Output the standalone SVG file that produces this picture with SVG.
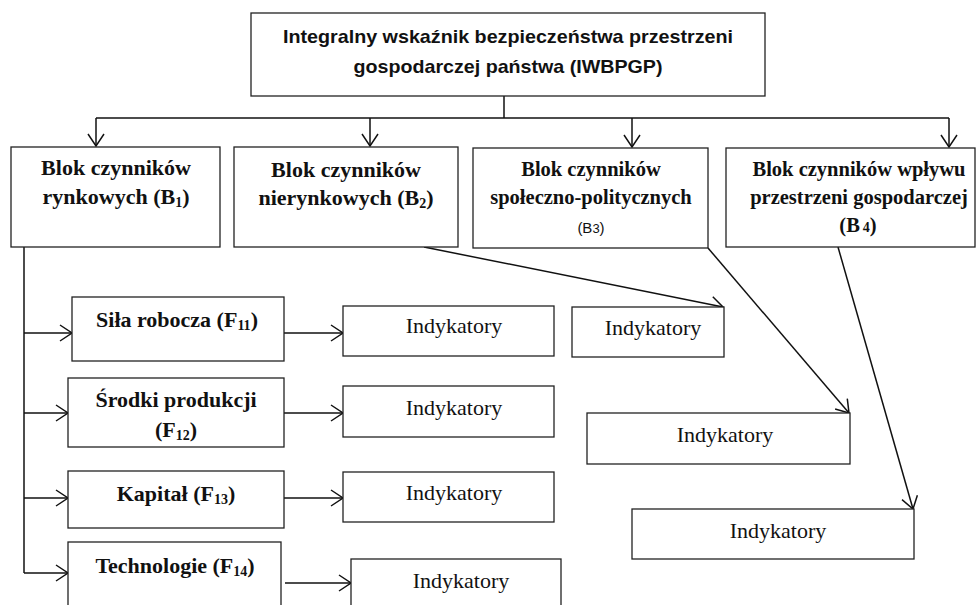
<svg xmlns="http://www.w3.org/2000/svg" width="976" height="605" viewBox="0 0 976 605">
<defs>
<style>
.box{fill:#fff;stroke:#222;stroke-width:1.3}
.ln{fill:none;stroke:#111;stroke-width:1.5}
.arr{fill:none;stroke:#111;stroke-width:1.5;marker-end:url(#ah)}
.tb{font-family:"Liberation Serif","Times New Roman","DejaVu Serif",serif;font-weight:bold;font-size:22px;fill:#111;text-anchor:middle}
.tb3{font-family:"Liberation Serif","Times New Roman","DejaVu Serif",serif;font-weight:bold;font-size:20.5px;fill:#111;text-anchor:middle}
.tr{font-family:"Liberation Serif","Times New Roman","DejaVu Serif",serif;font-weight:normal;font-size:22px;fill:#111;text-anchor:middle}
.ts{font-family:"Liberation Sans",Arial,sans-serif;font-weight:bold;font-size:19px;fill:#111;text-anchor:middle}
.sub{font-size:14px}
</style>
<marker id="ah" viewBox="0 0 14 18" refX="13" refY="9" markerWidth="14" markerHeight="18" markerUnits="userSpaceOnUse" orient="auto">
<path d="M1,1 L13,9 L1,17" fill="none" stroke="#111" stroke-width="1.5"/>
</marker>
</defs>
<rect width="976" height="605" fill="#fff"/>

<g id="connectors">
<line class="ln" x1="504" y1="96" x2="504" y2="118"/>
<line class="ln" x1="96" y1="118" x2="949" y2="118"/>
<line class="arr" x1="96" y1="118" x2="96" y2="146"/>
<line class="arr" x1="370" y1="118" x2="370" y2="146"/>
<line class="arr" x1="632" y1="118" x2="632" y2="147"/>
<line class="arr" x1="949" y1="118" x2="949" y2="147"/>
<line class="ln" x1="24" y1="247" x2="24" y2="573"/>
<line class="arr" x1="24" y1="333" x2="72" y2="333"/>
<line class="arr" x1="24" y1="413" x2="68" y2="413"/>
<line class="arr" x1="24" y1="498" x2="68" y2="498"/>
<line class="arr" x1="24" y1="573" x2="68" y2="573"/>
<line class="arr" x1="284" y1="333" x2="343" y2="333"/>
<line class="arr" x1="284" y1="413" x2="343" y2="413"/>
<line class="arr" x1="284" y1="498" x2="343" y2="498"/>
<line class="arr" x1="285" y1="583" x2="351" y2="583"/>
<line class="arr" x1="424" y1="247" x2="723" y2="307"/>
<line class="arr" x1="708" y1="248" x2="849" y2="413"/>
<line class="arr" x1="838" y1="247" x2="913" y2="509"/>
</g>

<g id="top">
<rect class="box" x="251" y="13" width="514" height="83"/>
<text class="ts" x="508" y="43" textLength="450" lengthAdjust="spacingAndGlyphs">Integralny wskaźnik bezpieczeństwa przestrzeni</text>
<text class="ts" x="508" y="73" textLength="309" lengthAdjust="spacingAndGlyphs">gospodarczej państwa (IWBPGP)</text>
</g>

<g id="b1">
<rect class="box" x="11" y="147" width="209" height="100"/>
<text class="tb" x="116" y="175">Blok czynników</text>
<text class="tb" x="116" y="204">rynkowych (B<tspan class="sub" dy="3">1</tspan><tspan dy="-3">)</tspan></text>
</g>

<g id="b2">
<rect class="box" x="234" y="147" width="224" height="100"/>
<text class="tb" x="346" y="177">Blok czynników</text>
<text class="tb" x="346" y="205">nierynkowych (B<tspan class="sub" dy="3">2</tspan><tspan dy="-3">)</tspan></text>
</g>

<g id="b3">
<rect class="box" x="473" y="148" width="235" height="100"/>
<text class="tb3" x="591" y="176">Blok czynników</text>
<text class="tb3" x="591" y="204">społeczno-politycznych</text>
<text x="591" y="233" style="font-family:'Liberation Sans',Arial,sans-serif;font-size:15px;fill:#111;text-anchor:middle">(B<tspan font-size="13">3</tspan>)</text>
</g>

<g id="b4">
<rect class="box" x="726" y="148" width="249" height="99"/>
<text class="tb3" x="859" y="176">Blok czynników wpływu</text>
<text class="tb3" x="859" y="204">przestrzeni gospodarczej</text>
<text class="tb3" x="858" y="232">(B<tspan class="sub" dx="3">4</tspan>)</text>
</g>

<g id="f11">
<rect class="box" x="72" y="297" width="212" height="64"/>
<text class="tb" x="177" y="327">Siła robocza (F<tspan class="sub" dy="3">11</tspan><tspan dy="-3">)</tspan></text>
</g>
<g id="f12">
<rect class="box" x="68" y="378" width="216" height="69"/>
<text class="tb" x="176" y="407">Środki produkcji</text>
<text class="tb" x="176" y="437">(F<tspan class="sub" dy="3">12</tspan><tspan dy="-3">)</tspan></text>
</g>
<g id="f13">
<rect class="box" x="68" y="471" width="216" height="57"/>
<text class="tb" x="176" y="501">Kapitał (F<tspan class="sub" dy="3">13</tspan><tspan dy="-3">)</tspan></text>
</g>
<g id="f14">
<rect class="box" x="68" y="542" width="213" height="70"/>
<text class="tb" x="175" y="573">Technologie (F<tspan class="sub" dy="3">14</tspan><tspan dy="-3">)</tspan></text>
</g>

<g id="i11">
<rect class="box" x="343" y="306" width="211" height="50"/>
<text class="tr" x="454" y="333">Indykatory</text>
</g>
<g id="i12">
<rect class="box" x="343" y="386" width="211" height="51"/>
<text class="tr" x="454" y="415">Indykatory</text>
</g>
<g id="i13">
<rect class="box" x="343" y="472" width="211" height="50"/>
<text class="tr" x="454" y="500">Indykatory</text>
</g>
<g id="i14">
<rect class="box" x="351" y="559" width="210" height="60"/>
<text class="tr" x="461" y="588">Indykatory</text>
</g>

<g id="i2">
<rect class="box" x="572" y="307" width="152" height="50"/>
<text class="tr" x="653" y="335">Indykatory</text>
</g>
<g id="i3">
<rect class="box" x="587" y="413" width="263" height="51"/>
<text class="tr" x="725" y="442">Indykatory</text>
</g>
<g id="i4">
<rect class="box" x="632" y="509" width="282" height="50"/>
<text class="tr" x="778" y="538">Indykatory</text>
</g>
</svg>
